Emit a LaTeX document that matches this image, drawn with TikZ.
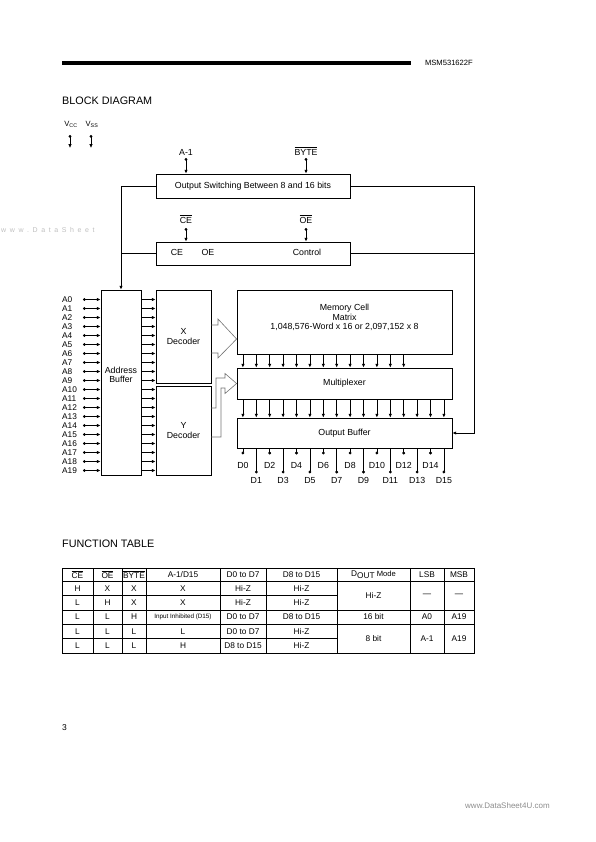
\documentclass[tikz,border=0pt]{standalone}
\usepackage{fontspec}
\setmainfont{Liberation Sans}
\usetikzlibrary{arrows.meta,calc}
\newcommand{\barsig}[1]{$\overline{\mbox{#1}}$}
\newcommand{\wmgap}{\hspace{3.6pt}}
\begin{document}
\begin{tikzpicture}[x=1pt,y=-1pt,
    box/.style={draw,line width=0.8pt,inner sep=0pt,align=center,font=\fontsize{8.8}{10}\selectfont},
    lbl/.style={inner sep=0pt,align=center,font=\fontsize{8.8}{9.6}\selectfont},
    pinarrow/.style={line width=0.7pt,{Circle[length=2.8pt]}-{Latex[length=3.8pt,width=3.4pt]}},
    arr/.style={line width=0.7pt,-{Latex[length=3.8pt,width=3.4pt]}},
    wire/.style={line width=0.7pt},
    dotend/.style={line width=0.7pt,-{Circle[length=2.8pt]}},
    hollow/.style={draw=black!55,line width=0.6pt},
    tab/.style={line width=0.5pt},
    cell/.style={inner sep=0pt,font=\fontsize{8.3}{9}\selectfont}]

\useasboundingbox (0,0) rectangle (595,842);

\draw[line width=4pt] (62,63) -- (411,63);
\node[anchor=east,inner sep=0pt,font=\fontsize{7.6}{9}\selectfont] (partno) at (473,63) {MSM531622F};
\node[anchor=west,inner sep=0pt,font=\fontsize{10.8}{12}\selectfont] (title) at (62,101) {BLOCK DIAGRAM};
\node[anchor=west,inner sep=0pt,text=black!25,font=\fontsize{7}{8}\selectfont] (wmleft) at (1,230)
    {w\wmgap w\wmgap w\wmgap .\wmgap D\wmgap a\wmgap t\wmgap a\wmgap S\wmgap h\wmgap e\wmgap e\wmgap t};

\node[lbl,font=\fontsize{7.6}{9}\selectfont] (vcc) at (71,124) {V\textsubscript{CC}};
\node[lbl,font=\fontsize{7.6}{9}\selectfont] (vss) at (92,124) {V\textsubscript{SS}};
\coordinate (vcctop) at (70,135);
\coordinate (vccbot) at (70,148);
\coordinate (vsstop) at (91,135);
\coordinate (vssbot) at (91,148);
\draw[pinarrow] (vcctop) -- (vccbot);
\draw[pinarrow] (vsstop) -- (vssbot);

\node[box,minimum width=194pt,minimum height=24pt] (sw) at (253,186) {Output Switching Between 8 and 16 bits};
\node[box,minimum width=194pt,minimum height=23pt] (ctl) at (253,253.5) {};
\node[lbl] (ctlce) at (177,252) {CE};
\node[lbl] (ctloe) at (208,252) {OE};
\node[lbl] (ctltxt) at (307,252) {Control};

\node[lbl] (aminus) at (186,152) {A-1};
\node[lbl] (byte) at (306,151) {\barsig{BYTE}};
\node[lbl] (cebar) at (186,219) {\barsig{CE}};
\node[lbl] (oebar) at (306,219) {\barsig{OE}};
\coordinate (apin) at (186,158);
\coordinate (bytepin) at (306,158);
\coordinate (cepin) at (186,228);
\coordinate (oepin) at (306,228);
\draw[pinarrow] (apin) -- (apin |- sw.north);
\draw[pinarrow] (bytepin) -- (bytepin |- sw.north);
\draw[pinarrow] (cepin) -- (cepin |- ctl.north);
\draw[pinarrow] (oepin) -- (oepin |- ctl.north);

\node[box,minimum width=40pt,minimum height=185pt] (buf) at (121,382.5) {};
\node[lbl] (buftxt) at (121,375) {Address\\Buffer};
\node[box,minimum width=55pt,minimum height=93.5pt] (xdec) at (183.5,336.75) {X\\Decoder};
\node[box,minimum width=55pt,minimum height=88.5pt] (ydec) at (183.5,430.75) {Y\\Decoder};
\node[box,minimum width=215pt,minimum height=64pt] (mem) at (344.5,322) {};
\node[lbl] (memtxt) at (344.5,317.5) {Memory Cell\\Matrix\\1,048,576-Word x 16 or 2,097,152 x 8};
\node[box,minimum width=215pt,minimum height=31pt] (mux) at (344.5,383.5) {Multiplexer};
\node[box,minimum width=215pt,minimum height=30pt] (obuf) at (344.5,433) {Output Buffer};

\draw[arr] (sw.west) -| (buf.north);
\draw[wire] (ctl.west) -- (ctl.west -| buf.north);
\coordinate (rbus) at (474,186);
\draw[arr] (sw.east) -- (rbus) |- (obuf.east);
\draw[wire] (ctl.east) -- (ctl.east -| rbus);

\foreach \i in {0,...,19} {
  \pgfmathsetmacro\ya{299.5+9*\i}
  \node[anchor=west,inner sep=0pt,font=\fontsize{8.3}{9}\selectfont] (a\i) at (62,\ya) {A\i};
  \coordinate (apin\i) at (83,\ya);
  \draw[pinarrow] (apin\i) -- (apin\i -| buf.west);
  \ifnum\i<10 \def\decname{xdec}\else\def\decname{ydec}\fi
  \draw[arr] (apin\i -| buf.east) -- (apin\i -| \decname.west);
}

\draw[hollow] (xdec.east |- 0,325) -- (218,325) -- (218,319) -- (mem.west |- 0,339)
    -- (218,358) -- (218,353) -- (xdec.east |- 0,353);
\draw[hollow] (ydec.east |- 0,408) -- (216,408) -- (216,378) -- (225,378) -- (225,373.5)
    -- (mux.west) -- (225,393.5) -- (225,388) -- (221,388) -- (221,437) -- (ydec.east |- 0,437);

\foreach \k in {0,...,12}
  \draw[arr] ($(mem.south west)+(6.3+13.4*\k,0)$) -- ($(mux.north west)+(6.3+13.4*\k,0)$);
\foreach \k in {0,...,15}
  \draw[arr] ($(mux.south west)+(6.3+13.4*\k,0)$) -- ($(obuf.north west)+(6.3+13.4*\k,0)$);

\foreach \k in {0,...,15} {
  \pgfmathsetmacro\dy{ifthenelse(mod(\k,2)==1,25,6)}
  \pgfmathsetmacro\ly{ifthenelse(mod(\k,2)==1,32,17)}
  \coordinate (dpin\k) at ($(obuf.south west)+(6.3+13.4*\k,\dy)$);
  \draw[dotend] (dpin\k |- obuf.south) -- (dpin\k);
  \node[lbl] (d\k) at ($(obuf.south west)+(6.3+13.4*\k,\ly)$) {D\k};
}

\node[anchor=west,inner sep=0pt,font=\fontsize{10.8}{12}\selectfont] (ftitle) at (62,544) {FUNCTION TABLE};

\draw[tab] (62,568) rectangle (474,653);
\draw[tab] (62,581) -- (474,581);
\draw[tab] (62,595.4) -- (337,595.4);
\draw[tab] (62,609.8) -- (474,609.8);
\draw[tab] (62,624.2) -- (474,624.2);
\draw[tab] (62,638.6) -- (337,638.6);
\foreach \x in {93,122,146,220,266,337,410,444}
  \draw[tab] (\x,568) -- (\x,653);

\node[cell] (hce) at (77.5,574.5) {\barsig{CE}};
\node[cell] (hoe) at (107.5,574.5) {\barsig{OE}};
\node[cell] (hbyte) at (134,574.5) {\barsig{BYTE}};
\node[cell] (ham) at (183,574.5) {A-1/D15};
\node[cell] (hlo) at (243,574.5) {D0 to D7};
\node[cell] (hhi) at (301.5,574.5) {D8 to D15};
\node[cell] (hmode) at (373.5,574.5) {D\raisebox{-1.8pt}{OUT} {\fontsize{7.6}{8}\selectfont Mode}};
\node[cell] (hlsb) at (427,574.5) {LSB};
\node[cell] (hmsb) at (459,574.5) {MSB};

\foreach \r/\ce/\oe/\by/\am/\lo/\hi in {0/H/X/X/X/Hi-Z/Hi-Z, 1/L/H/X/X/Hi-Z/Hi-Z,
    2/L/L/H/{\fontsize{6.3}{7}\selectfont Input Inhibited (D15)}/D0 to D7/D8 to D15,
    3/L/L/L/L/D0 to D7/Hi-Z, 4/L/L/L/H/D8 to D15/Hi-Z} {
  \pgfmathsetmacro\yr{588.2+14.4*\r}
  \node[cell] (ce\r) at (77.5,\yr) {\ce};
  \node[cell] (oe\r) at (107.5,\yr) {\oe};
  \node[cell] (by\r) at (134,\yr) {\by};
  \node[cell] (am\r) at (183,\yr) {\am};
  \node[cell] (lo\r) at (243,\yr) {\lo};
  \node[cell] (hi\r) at (301.5,\yr) {\hi};
}
\node[cell] (mode1) at (373.5,595.4) {Hi-Z};
\node[cell] (lsb1) at (427,595.4) {---};
\node[cell] (msb1) at (459,595.4) {---};
\node[cell] (mode2) at (373.5,617) {16 bit};
\node[cell] (lsb2) at (427,617) {A0};
\node[cell] (msb2) at (459,617) {A19};
\node[cell] (mode3) at (373.5,638.6) {8 bit};
\node[cell] (lsb3) at (427,638.6) {A-1};
\node[cell] (msb3) at (459,638.6) {A19};

\node[anchor=west,inner sep=0pt,font=\fontsize{8.5}{10}\selectfont] (pageno) at (62,728) {3};
\node[anchor=west,inner sep=0pt,text=black!45,font=\fontsize{8}{9}\selectfont] (wmright) at (465,806) {www.DataSheet4U.com};
\end{tikzpicture}
\end{document}
